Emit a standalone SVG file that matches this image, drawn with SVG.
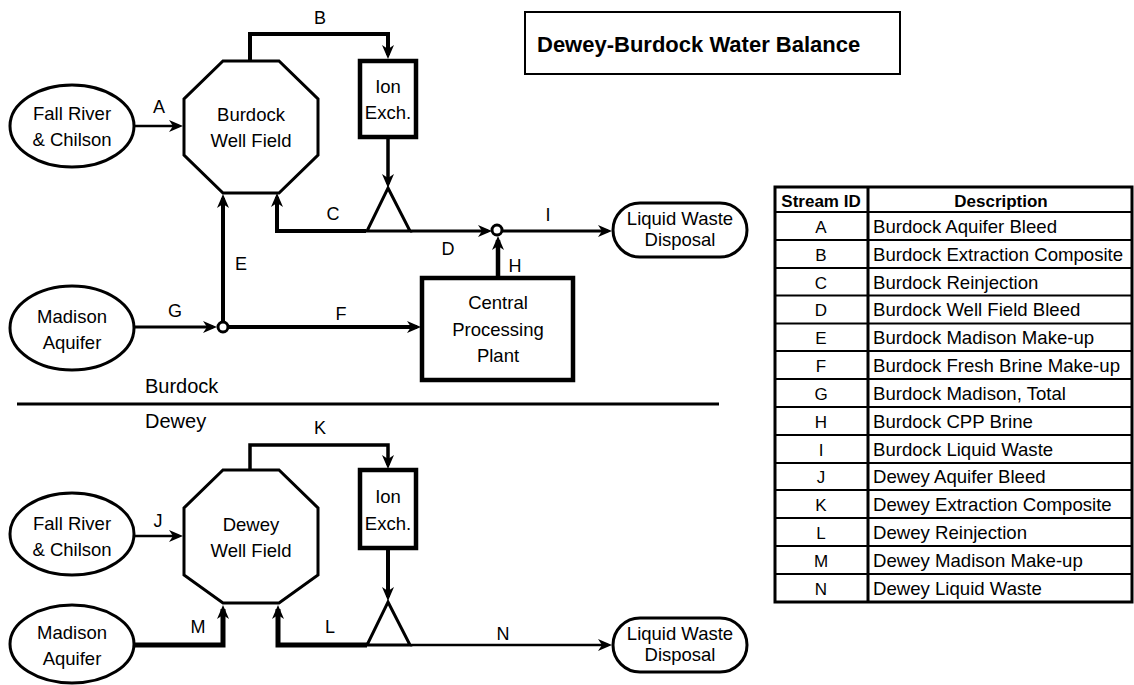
<svg xmlns="http://www.w3.org/2000/svg" width="1134" height="685" viewBox="0 0 1134 685">
<style>
  .shape { fill: #fff; stroke: #000; }
  .lbl { font-family: "Liberation Sans", Arial, sans-serif; font-size: 18px; fill: #000; text-anchor: middle; }
  .nt { font-family: "Liberation Sans", Arial, sans-serif; font-size: 18.5px; fill: #000; text-anchor: middle; }
  .conn { fill: none; stroke: #000; marker-end: url(#arr); }
  .plain { fill: none; stroke: #000; }
  .th { font-family: "Liberation Sans", Arial, sans-serif; font-size: 17px; font-weight: bold; fill: #000; text-anchor: middle; }
  .tid { font-family: "Liberation Sans", Arial, sans-serif; font-size: 17px; fill: #000; text-anchor: middle; }
  .td { font-family: "Liberation Sans", Arial, sans-serif; font-size: 18.6px; fill: #000; }
  .tl { stroke: #000; stroke-width: 2; }
</style>
<defs>
  <marker id="arr" markerUnits="userSpaceOnUse" markerWidth="16" markerHeight="14" refX="10" refY="6" orient="auto">
    <path d="M0,0 L14,6 L0,12 L4,6 Z" fill="#000"/>
  </marker>
</defs>
<rect width="1134" height="685" fill="#fff"/>

<!-- Title -->
<g id="title">
  <rect x="525" y="12" width="375" height="62" fill="#fff" stroke="#000" stroke-width="2"/>
  <text x="537" y="52" font-family="Liberation Sans, Arial, sans-serif" font-size="22" font-weight="bold" fill="#000">Dewey-Burdock Water Balance</text>
</g>

<!-- Connectors -->
<g id="connectors">
  <path class="conn" stroke-width="2.5" d="M134,126 H179"/>
  <path class="conn" stroke-width="4" d="M250,61 V34 H388 V55"/>
  <path class="conn" stroke-width="3.5" d="M388,137 V184"/>
  <path class="conn" stroke-width="4" d="M366,231 H277 V197"/>
  <path class="conn" stroke-width="3" d="M410,231 H488"/>
  <path class="conn" stroke-width="3" d="M502,231 H608"/>
  <path class="conn" stroke-width="4.5" d="M498,278 V240"/>
  <path class="conn" stroke-width="3" d="M134,327 H213"/>
  <path class="conn" stroke-width="4" d="M223,322 V198"/>
  <path class="conn" stroke-width="4" d="M228,327 H417"/>

  <path class="conn" stroke-width="2.5" d="M134,536 H179"/>
  <path class="conn" stroke-width="3.5" d="M250,470 V445 H388 V465"/>
  <path class="conn" stroke-width="4" d="M388,548 V597"/>
  <path class="conn" stroke-width="5" d="M367,645 H278 V609"/>
  <path class="conn" stroke-width="5" d="M134,645 H223 V609"/>
  <path class="conn" stroke-width="2.5" d="M410,645 H608"/>

  <text class="lbl" x="159" y="113">A</text>
  <text class="lbl" x="320" y="24">B</text>
  <text class="lbl" x="333" y="220">C</text>
  <text class="lbl" x="448" y="255">D</text>
  <text class="lbl" x="241" y="270">E</text>
  <text class="lbl" x="341" y="320">F</text>
  <text class="lbl" x="175" y="317">G</text>
  <text class="lbl" x="515" y="272">H</text>
  <text class="lbl" x="548" y="221">I</text>
  <text class="lbl" x="158" y="527">J</text>
  <text class="lbl" x="320" y="434">K</text>
  <text class="lbl" x="330" y="633">L</text>
  <text class="lbl" x="198" y="633">M</text>
  <text class="lbl" x="503" y="640">N</text>
</g>

<!-- Burdock section -->
<g id="burdock-fallriver">
  <ellipse class="shape" stroke-width="3" cx="72" cy="126" rx="62" ry="41"/>
  <text class="nt" x="72" y="120">Fall River</text>
  <text class="nt" x="72" y="146">&amp; Chilson</text>
</g>
<g id="burdock-wellfield">
  <polygon class="shape" stroke-width="3" points="223,61 279,61 318,99 318,155 279,193 223,193 184,155 184,99"/>
  <text class="nt" x="251" y="121">Burdock</text>
  <text class="nt" x="251" y="147">Well Field</text>
</g>
<g id="burdock-ionexch">
  <rect class="shape" stroke-width="4.5" x="360" y="61" width="56" height="76"/>
  <text class="nt" x="388" y="93">Ion</text>
  <text class="nt" x="388" y="119">Exch.</text>
</g>
<g id="burdock-splitter">
  <polygon class="shape" stroke-width="3" points="388,188 410,231 367,231"/>
</g>
<g id="burdock-junction-i">
  <circle class="shape" stroke-width="3" cx="497" cy="230" r="5"/>
</g>
<g id="burdock-liquidwaste">
  <rect class="shape" stroke-width="3" x="613" y="203" width="134" height="54" rx="27" ry="27"/>
  <text class="nt" x="680" y="225" font-size="17">Liquid Waste</text>
  <text class="nt" x="680" y="246" font-size="17">Disposal</text>
</g>
<g id="burdock-cpp">
  <rect class="shape" stroke-width="4.5" x="422" y="278" width="151" height="102"/>
  <text class="nt" x="498" y="309">Central</text>
  <text class="nt" x="498" y="336">Processing</text>
  <text class="nt" x="498" y="362">Plant</text>
</g>
<g id="burdock-madison">
  <ellipse class="shape" stroke-width="3" cx="72" cy="328" rx="62" ry="42"/>
  <text class="nt" x="72" y="323">Madison</text>
  <text class="nt" x="72" y="349">Aquifer</text>
</g>
<g id="burdock-junction-g">
  <circle class="shape" stroke-width="3" cx="223" cy="327" r="5"/>
</g>

<!-- Divider -->
<g id="divider">
  <line class="plain" stroke-width="3" x1="17" y1="404" x2="719" y2="404"/>
  <text x="145" y="393" font-family="Liberation Sans, Arial, sans-serif" font-size="20" fill="#000">Burdock</text>
  <text x="145" y="428" font-family="Liberation Sans, Arial, sans-serif" font-size="20" fill="#000">Dewey</text>
</g>

<!-- Dewey section -->
<g id="dewey-fallriver">
  <ellipse class="shape" stroke-width="3" cx="72" cy="534" rx="62" ry="41"/>
  <text class="nt" x="72" y="530">Fall River</text>
  <text class="nt" x="72" y="556">&amp; Chilson</text>
</g>
<g id="dewey-wellfield">
  <polygon class="shape" stroke-width="3" points="223,470 279,470 318,508 318,575 279,603 223,603 184,575 184,508"/>
  <text class="nt" x="251" y="531">Dewey</text>
  <text class="nt" x="251" y="557">Well Field</text>
</g>
<g id="dewey-ionexch">
  <rect class="shape" stroke-width="4.5" x="360" y="470" width="56" height="78"/>
  <text class="nt" x="388" y="503">Ion</text>
  <text class="nt" x="388" y="530">Exch.</text>
</g>
<g id="dewey-splitter">
  <polygon class="shape" stroke-width="3" points="388,602 410,645 367,645"/>
</g>
<g id="dewey-madison">
  <ellipse class="shape" stroke-width="3" cx="72" cy="644" rx="62" ry="39"/>
  <text class="nt" x="72" y="639">Madison</text>
  <text class="nt" x="72" y="665">Aquifer</text>
</g>
<g id="dewey-liquidwaste">
  <rect class="shape" stroke-width="3" x="613" y="618" width="134" height="54" rx="27" ry="27"/>
  <text class="nt" x="680" y="640" font-size="17">Liquid Waste</text>
  <text class="nt" x="680" y="661" font-size="17">Disposal</text>
</g>

<!-- Table -->
<g id="stream-table">
  <rect x="775" y="187" width="357" height="415" fill="#fff" stroke="#000" stroke-width="3"/>
  <line x1="868" y1="187" x2="868" y2="602" stroke="#000" stroke-width="3"/>
  <line class="tl" x1="775" y1="212" x2="1132" y2="212"/>
  <line class="tl" x1="775" y1="240" x2="1132" y2="240"/>
  <line class="tl" x1="775" y1="268" x2="1132" y2="268"/>
  <line class="tl" x1="775" y1="295.5" x2="1132" y2="295.5"/>
  <line class="tl" x1="775" y1="323.5" x2="1132" y2="323.5"/>
  <line class="tl" x1="775" y1="351" x2="1132" y2="351"/>
  <line class="tl" x1="775" y1="379" x2="1132" y2="379"/>
  <line class="tl" x1="775" y1="407" x2="1132" y2="407"/>
  <line class="tl" x1="775" y1="435" x2="1132" y2="435"/>
  <line class="tl" x1="775" y1="463" x2="1132" y2="463"/>
  <line class="tl" x1="775" y1="490" x2="1132" y2="490"/>
  <line class="tl" x1="775" y1="518" x2="1132" y2="518"/>
  <line class="tl" x1="775" y1="546" x2="1132" y2="546"/>
  <line class="tl" x1="775" y1="574" x2="1132" y2="574"/>
  <text class="th" x="821" y="207">Stream ID</text>
  <text class="th" x="1001" y="207">Description</text>
  <text class="tid" x="821" y="233">A</text><text class="td" x="873" y="233">Burdock Aquifer Bleed</text>
  <text class="tid" x="821" y="261">B</text><text class="td" x="873" y="261">Burdock Extraction Composite</text>
  <text class="tid" x="821" y="289">C</text><text class="td" x="873" y="289">Burdock Reinjection</text>
  <text class="tid" x="821" y="316">D</text><text class="td" x="873" y="316">Burdock Well Field Bleed</text>
  <text class="tid" x="821" y="344">E</text><text class="td" x="873" y="344">Burdock Madison Make-up</text>
  <text class="tid" x="821" y="372">F</text><text class="td" x="873" y="372">Burdock Fresh Brine Make-up</text>
  <text class="tid" x="821" y="400">G</text><text class="td" x="873" y="400">Burdock Madison, Total</text>
  <text class="tid" x="821" y="428">H</text><text class="td" x="873" y="428">Burdock CPP Brine</text>
  <text class="tid" x="821" y="456">I</text><text class="td" x="873" y="456">Burdock Liquid Waste</text>
  <text class="tid" x="821" y="483">J</text><text class="td" x="873" y="483">Dewey Aquifer Bleed</text>
  <text class="tid" x="821" y="511">K</text><text class="td" x="873" y="511">Dewey Extraction Composite</text>
  <text class="tid" x="821" y="539">L</text><text class="td" x="873" y="539">Dewey Reinjection</text>
  <text class="tid" x="821" y="567">M</text><text class="td" x="873" y="567">Dewey Madison Make-up</text>
  <text class="tid" x="821" y="595">N</text><text class="td" x="873" y="595">Dewey Liquid Waste</text>
</g>
</svg>
